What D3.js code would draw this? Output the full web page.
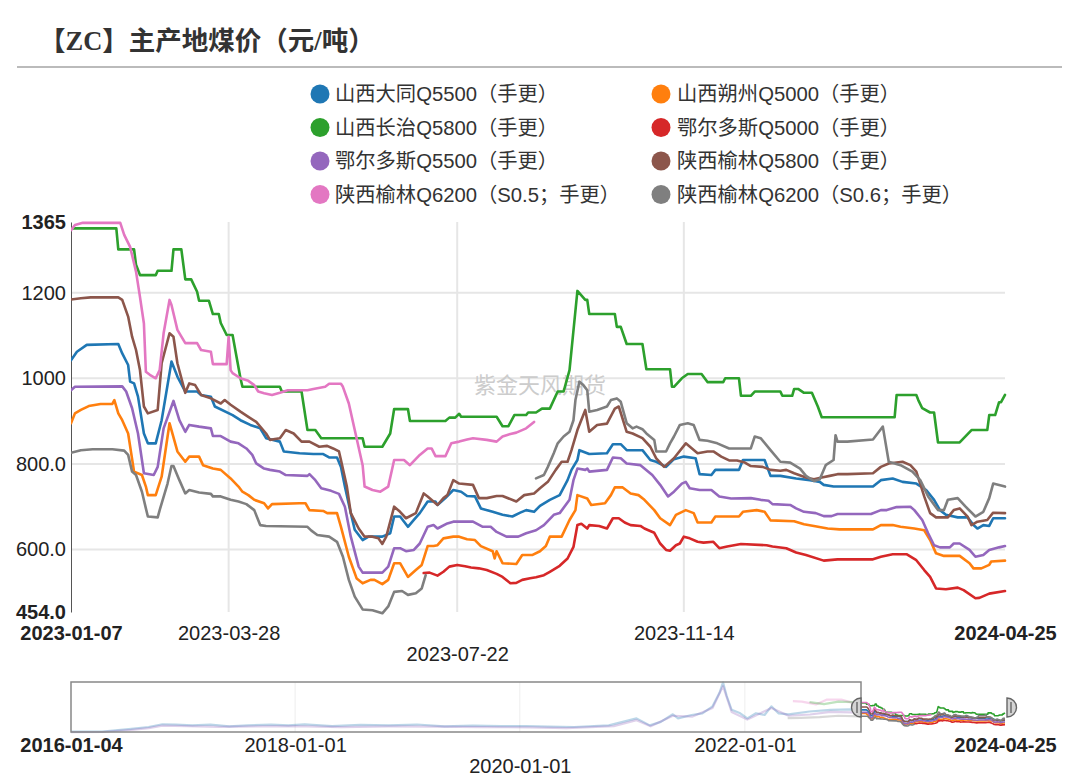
<!DOCTYPE html>
<html><head><meta charset="utf-8">
<script src="https://cdn.jsdelivr.net/npm/d3@7"></script>
<style>
html,body{margin:0;padding:0;background:#fff;}
svg{display:block;}
</style></head><body>
<svg id="chart" width="1080" height="784"></svg>
<script>
const chartTitle = "【ZC】主产地煤价（元/吨）";
const watermark = "紫金天风期货";
const seriesNames = ["山西大同Q5500（手更）","山西朔州Q5000（手更）","山西长治Q5800（手更）","鄂尔多斯Q5000（手更）","鄂尔多斯Q5500（手更）","陕西榆林Q5800（手更）","陕西榆林Q6200（S0.5；手更）","陕西榆林Q6200（S0.6；手更）"];
const seriesColors = ["#1f77b4","#ff7f0e","#2ca02c","#d62728","#9467bd","#8c564b","#e377c2","#7f7f7f"];
const yTicks = [1365, 1200, 1000, 800, 600, 454];
const yTickLabels = ["1365","1200","1000","800.0","600.0","454.0"];
const xTicks = ["2023-01-07","2023-03-28","2023-07-22","2023-11-14","2024-04-25"];
const overviewTicks = ["2016-01-04","2018-01-01","2020-01-01","2022-01-01","2024-04-25"];

const datong = [["2023-01-07",1042],["2023-01-10",1062],["2023-01-15",1078],["2023-01-31",1080],["2023-02-02",1058],["2023-02-05",1031],["2023-02-06",992],["2023-02-08",988],["2023-02-10",957],["2023-02-13",871],["2023-02-15",848],["2023-02-19",848],["2023-02-22",902],["2023-02-27",1039],["2023-03-02",1004],["2023-03-06",969],["2023-03-12",969],["2023-03-14",961],["2023-03-19",957],["2023-03-21",934],["2023-03-30",914],["2023-04-03",902],["2023-04-08",891],["2023-04-13",883],["2023-04-16",860],["2023-04-23",852],["2023-04-25",829],["2023-05-03",825],["2023-05-10",823],["2023-05-15",823],["2023-05-18",815],["2023-05-22",815],["2023-05-24",793],["2023-05-26",747],["2023-05-29",685],["2023-05-31",646],["2023-06-04",622],["2023-06-07",630],["2023-06-14",630],["2023-06-18",638],["2023-06-20",677],["2023-06-23",677],["2023-06-27",653],["2023-06-30",669],["2023-07-03",685],["2023-07-07",712],["2023-07-11",712],["2023-07-12",704],["2023-07-16",720],["2023-07-20",739],["2023-07-24",735],["2023-07-27",725],["2023-07-31",724],["2023-08-03",696],["2023-08-09",688],["2023-08-14",681],["2023-08-19",677],["2023-08-23",686],["2023-08-26",692],["2023-08-30",688],["2023-09-02",702],["2023-09-07",716],["2023-09-12",727],["2023-09-16",762],["2023-09-18",786],["2023-09-21",809],["2023-09-22",832],["2023-09-27",823],["2023-10-06",825],["2023-10-09",846],["2023-10-13",846],["2023-10-16",832],["2023-10-24",832],["2023-10-28",809],["2023-10-31",805],["2023-11-05",793],["2023-11-09",811],["2023-11-14",817],["2023-11-20",813],["2023-11-22",776],["2023-11-28",774],["2023-11-30",786],["2023-12-12",786],["2023-12-14",809],["2023-12-25",809],["2023-12-28",772],["2024-01-02",772],["2024-01-10",766],["2024-01-17",762],["2024-01-22",758],["2024-01-24",751],["2024-01-29",747],["2024-02-18",747],["2024-02-22",762],["2024-02-28",766],["2024-03-04",758],["2024-03-11",754],["2024-03-16",739],["2024-03-20",716],["2024-03-23",692],["2024-03-26",681],["2024-04-01",675],["2024-04-06",675],["2024-04-09",657],["2024-04-11",649],["2024-04-14",657],["2024-04-17",655],["2024-04-19",673],["2024-04-25",673]];

const shuozhou = [["2023-01-07",895],["2023-01-09",918],["2023-01-12",926],["2023-01-16",935],["2023-01-22",940],["2023-01-28",940],["2023-01-29",949],["2023-01-31",918],["2023-02-02",902],["2023-02-05",871],["2023-02-08",782],["2023-02-12",774],["2023-02-14",747],["2023-02-15",727],["2023-02-19",727],["2023-02-22",770],["2023-02-26",895],["2023-03-02",829],["2023-03-06",805],["2023-03-08",817],["2023-03-13",817],["2023-03-15",797],["2023-03-20",789],["2023-03-24",786],["2023-03-29",766],["2023-04-02",747],["2023-04-04",735],["2023-04-07",727],["2023-04-10",716],["2023-04-15",708],["2023-04-17",696],["2023-04-19",706],["2023-05-03",708],["2023-05-06",708],["2023-05-08",692],["2023-05-15",690],["2023-05-17",685],["2023-05-22",685],["2023-05-24",653],["2023-05-28",583],["2023-06-01",532],["2023-06-04",521],["2023-06-08",529],["2023-06-10",529],["2023-06-14",519],["2023-06-17",529],["2023-06-20",568],["2023-06-23",568],["2023-06-27",536],["2023-07-01",552],["2023-07-04",564],["2023-07-07",608],["2023-07-10",608],["2023-07-12",610],["2023-07-15",626],["2023-07-20",630],["2023-07-23",630],["2023-07-27",624],["2023-07-31",622],["2023-08-03",608],["2023-08-09",596],["2023-08-10",579],["2023-08-11",596],["2023-08-14",568],["2023-08-21",566],["2023-08-24",587],["2023-08-29",587],["2023-09-02",596],["2023-09-05",608],["2023-09-07",630],["2023-09-13",630],["2023-09-17",669],["2023-09-20",692],["2023-09-21",727],["2023-09-26",719],["2023-09-28",704],["2023-10-05",708],["2023-10-08",727],["2023-10-10",745],["2023-10-14",745],["2023-10-18",731],["2023-10-22",727],["2023-10-25",716],["2023-10-30",692],["2023-11-02",673],["2023-11-07",657],["2023-11-10",681],["2023-11-15",692],["2023-11-19",685],["2023-11-21",663],["2023-11-28",663],["2023-11-30",677],["2023-12-12",677],["2023-12-14",688],["2023-12-21",692],["2023-12-25",688],["2023-12-28",668],["2024-01-09",666],["2024-01-14",659],["2024-01-19",655],["2024-01-26",649],["2024-02-01",647],["2024-02-18",647],["2024-02-22",657],["2024-02-28",657],["2024-03-03",653],["2024-03-10",649],["2024-03-15",645],["2024-03-18",622],["2024-03-21",591],["2024-03-25",585],["2024-04-02",585],["2024-04-07",568],["2024-04-09",556],["2024-04-13",556],["2024-04-17",564],["2024-04-18",572],["2024-04-25",574]];

const changzhi = [["2023-01-07",1350],["2023-01-30",1350],["2023-01-31",1301],["2023-02-08",1301],["2023-02-09",1265],["2023-02-11",1241],["2023-02-19",1241],["2023-02-20",1251],["2023-02-27",1251],["2023-02-28",1301],["2023-03-04",1301],["2023-03-06",1231],["2023-03-09",1231],["2023-03-12",1202],["2023-03-13",1181],["2023-03-18",1181],["2023-03-20",1150],["2023-03-23",1150],["2023-03-24",1129],["2023-03-27",1101],["2023-03-30",1101],["2023-04-01",1050],["2023-04-03",1000],["2023-04-04",980],["2023-04-23",980],["2023-04-24",969],["2023-05-04",969],["2023-05-07",879],["2023-05-11",879],["2023-05-14",860],["2023-06-04",860],["2023-06-05",840],["2023-06-14",840],["2023-06-18",871],["2023-06-20",928],["2023-06-27",928],["2023-06-28",900],["2023-07-16",900],["2023-07-18",908],["2023-07-21",908],["2023-07-23",917],["2023-07-24",910],["2023-08-11",910],["2023-08-14",888],["2023-08-17",888],["2023-08-20",914],["2023-08-26",914],["2023-08-27",920],["2023-08-31",920],["2023-09-03",929],["2023-09-07",929],["2023-09-11",969],["2023-09-14",969],["2023-09-17",1019],["2023-09-21",1204],["2023-09-25",1183],["2023-09-26",1183],["2023-09-27",1150],["2023-10-10",1150],["2023-10-11",1120],["2023-10-13",1120],["2023-10-16",1080],["2023-10-24",1080],["2023-10-26",1021],["2023-11-07",1021],["2023-11-08",980],["2023-11-09",980],["2023-11-13",1000],["2023-11-16",1010],["2023-11-23",1010],["2023-11-26",991],["2023-12-04",991],["2023-12-05",1000],["2023-12-12",1000],["2023-12-13",959],["2023-12-18",959],["2023-12-20",969],["2024-01-02",969],["2024-01-03",959],["2024-01-08",959],["2024-01-09",975],["2024-01-11",975],["2024-01-14",966],["2024-01-18",966],["2024-01-21",934],["2024-01-23",909],["2024-02-29",909],["2024-03-01",961],["2024-03-11",961],["2024-03-12",949],["2024-03-14",930],["2024-03-18",920],["2024-03-20",920],["2024-03-22",850],["2024-04-02",850],["2024-04-08",879],["2024-04-16",879],["2024-04-17",914],["2024-04-20",914],["2024-04-22",944],["2024-04-23",944],["2024-04-25",961]];

const ordos5000 = [["2023-07-05",545],["2023-07-08",546],["2023-07-12",539],["2023-07-15",548],["2023-07-18",560],["2023-07-22",564],["2023-07-26",561],["2023-07-29",558],["2023-08-02",556],["2023-08-06",552],["2023-08-11",543],["2023-08-14",536],["2023-08-18",521],["2023-08-21",522],["2023-08-24",529],["2023-08-28",533],["2023-08-31",535],["2023-09-04",540],["2023-09-07",548],["2023-09-12",562],["2023-09-16",579],["2023-09-19",606],["2023-09-21",657],["2023-09-23",660],["2023-09-26",649],["2023-09-27",657],["2023-10-02",655],["2023-10-06",649],["2023-10-09",673],["2023-10-12",673],["2023-10-15",663],["2023-10-18",657],["2023-10-23",655],["2023-10-25",649],["2023-10-30",639],["2023-11-02",614],["2023-11-05",599],["2023-11-07",597],["2023-11-10",610],["2023-11-12",614],["2023-11-14",630],["2023-11-17",626],["2023-11-21",618],["2023-11-24",616],["2023-11-29",618],["2023-12-02",603],["2023-12-06",607],["2023-12-13",613],["2023-12-26",610],["2023-12-29",607],["2024-01-05",603],["2024-01-10",593],["2024-01-15",587],["2024-01-24",574],["2024-01-31",577],["2024-02-18",577],["2024-02-22",583],["2024-02-28",589],["2024-03-06",589],["2024-03-11",575],["2024-03-15",552],["2024-03-18",536],["2024-03-21",509],["2024-03-26",507],["2024-04-01",511],["2024-04-04",505],["2024-04-10",486],["2024-04-12",487],["2024-04-17",497],["2024-04-25",503]];

const ordos5500 = [["2023-01-07",972],["2023-01-09",980],["2023-02-02",981],["2023-02-04",969],["2023-02-07",930],["2023-02-10",871],["2023-02-13",778],["2023-02-18",774],["2023-02-20",793],["2023-02-23",883],["2023-02-28",947],["2023-03-03",902],["2023-03-06",875],["2023-03-08",891],["2023-03-13",887],["2023-03-19",883],["2023-03-20",865],["2023-03-24",865],["2023-03-29",852],["2023-04-02",848],["2023-04-06",836],["2023-04-09",821],["2023-04-11",801],["2023-04-15",789],["2023-04-18",786],["2023-04-23",782],["2023-04-26",774],["2023-05-07",772],["2023-05-08",776],["2023-05-11",762],["2023-05-14",743],["2023-05-19",737],["2023-05-23",730],["2023-05-26",700],["2023-05-29",630],["2023-06-02",560],["2023-06-04",546],["2023-06-14",546],["2023-06-17",560],["2023-06-20",603],["2023-06-23",603],["2023-06-26",596],["2023-06-30",599],["2023-07-03",614],["2023-07-07",653],["2023-07-10",657],["2023-07-12",649],["2023-07-17",661],["2023-07-20",665],["2023-07-30",665],["2023-08-04",653],["2023-08-08",653],["2023-08-11",641],["2023-08-16",630],["2023-08-22",630],["2023-08-26",638],["2023-08-31",645],["2023-09-04",657],["2023-09-09",681],["2023-09-12",685],["2023-09-17",716],["2023-09-19",762],["2023-09-21",789],["2023-09-25",786],["2023-09-26",789],["2023-09-27",782],["2023-10-06",786],["2023-10-09",815],["2023-10-13",813],["2023-10-16",801],["2023-10-23",797],["2023-10-29",774],["2023-11-02",751],["2023-11-06",724],["2023-11-09",735],["2023-11-13",754],["2023-11-15",758],["2023-11-17",743],["2023-11-22",739],["2023-11-28",739],["2023-12-02",724],["2023-12-08",719],["2023-12-18",720],["2023-12-23",716],["2023-12-27",714],["2023-12-29",706],["2024-01-07",704],["2024-01-10",696],["2024-01-14",688],["2024-01-20",685],["2024-01-24",678],["2024-01-28",678],["2024-01-31",683],["2024-02-17",683],["2024-02-22",692],["2024-02-25",692],["2024-03-01",699],["2024-03-08",700],["2024-03-10",692],["2024-03-14",669],["2024-03-17",638],["2024-03-20",610],["2024-03-23",605],["2024-03-28",605],["2024-03-30",614],["2024-04-02",614],["2024-04-07",599],["2024-04-10",583],["2024-04-14",587],["2024-04-17",599],["2024-04-22",605],["2024-04-25",608]];

const yulin5800 = [["2023-01-07",1184],["2023-01-12",1187],["2023-01-17",1189],["2023-01-31",1189],["2023-02-02",1183],["2023-02-05",1144],["2023-02-07",1097],["2023-02-09",1066],["2023-02-11",1019],["2023-02-13",934],["2023-02-15",918],["2023-02-20",926],["2023-02-22",1035],["2023-02-26",1105],["2023-02-28",1097],["2023-03-02",1035],["2023-03-06",966],["2023-03-08",988],["2023-03-11",984],["2023-03-14",961],["2023-03-19",953],["2023-03-24",941],["2023-03-26",949],["2023-03-29",938],["2023-04-03",922],["2023-04-07",910],["2023-04-11",898],["2023-04-16",871],["2023-04-18",856],["2023-04-23",860],["2023-04-26",879],["2023-04-30",871],["2023-05-04",852],["2023-05-08",852],["2023-05-13",840],["2023-05-17",842],["2023-05-20",836],["2023-05-23",829],["2023-05-24",809],["2023-05-27",747],["2023-05-29",685],["2023-06-02",649],["2023-06-05",630],["2023-06-09",630],["2023-06-12",626],["2023-06-14",613],["2023-06-16",630],["2023-06-20",700],["2023-06-23",688],["2023-06-26",673],["2023-07-01",685],["2023-07-05",731],["2023-07-07",724],["2023-07-12",704],["2023-07-15",720],["2023-07-17",727],["2023-07-20",762],["2023-07-23",754],["2023-07-30",751],["2023-08-02",720],["2023-08-06",720],["2023-08-11",725],["2023-08-14",725],["2023-08-21",712],["2023-08-25",727],["2023-08-30",731],["2023-09-02",743],["2023-09-06",758],["2023-09-10",786],["2023-09-13",805],["2023-09-16",805],["2023-09-18",832],["2023-09-21",879],["2023-09-25",926],["2023-09-27",875],["2023-10-01",891],["2023-10-06",894],["2023-10-10",929],["2023-10-12",934],["2023-10-16",875],["2023-10-19",871],["2023-10-24",860],["2023-10-28",840],["2023-10-31",813],["2023-11-04",793],["2023-11-09",813],["2023-11-15",848],["2023-11-21",825],["2023-11-26",829],["2023-11-29",829],["2023-12-03",817],["2023-12-07",808],["2023-12-11",808],["2023-12-15",803],["2023-12-18",795],["2023-12-24",793],["2023-12-28",786],["2024-01-02",784],["2024-01-05",786],["2024-01-09",778],["2024-01-15",768],["2024-01-19",764],["2024-01-23",768],["2024-01-27",772],["2024-01-31",776],["2024-02-05",776],["2024-02-18",778],["2024-02-22",793],["2024-02-26",801],["2024-03-04",805],["2024-03-08",797],["2024-03-11",782],["2024-03-15",724],["2024-03-18",685],["2024-03-21",675],["2024-03-27",675],["2024-03-30",692],["2024-04-02",696],["2024-04-06",677],["2024-04-08",657],["2024-04-11",665],["2024-04-16",669],["2024-04-19",686],["2024-04-25",685]];

const yulin6200a = [["2023-01-07",1346],["2023-01-09",1358],["2023-01-13",1363],["2023-02-01",1363],["2023-02-03",1335],["2023-02-06",1307],["2023-02-09",1249],["2023-02-11",1190],["2023-02-13",1128],["2023-02-14",1015],["2023-02-16",1008],["2023-02-19",1000],["2023-02-21",1019],["2023-02-23",1105],["2023-02-26",1183],["2023-02-27",1171],["2023-03-02",1113],["2023-03-06",1082],["2023-03-12",1082],["2023-03-14",1066],["2023-03-19",1062],["2023-03-20",1033],["2023-03-27",1033],["2023-03-28",1097],["2023-03-29",1019],["2023-03-30",1012],["2023-04-03",1000],["2023-04-07",994],["2023-04-10",984],["2023-04-12",969],["2023-04-15",965],["2023-04-19",961],["2023-04-23",966],["2023-04-27",972],["2023-05-07",972],["2023-05-10",975],["2023-05-16",980],["2023-05-18",987],["2023-05-24",987],["2023-05-25",980],["2023-05-28",941],["2023-05-31",879],["2023-06-04",797],["2023-06-05",747],["2023-06-09",739],["2023-06-13",735],["2023-06-17",747],["2023-06-20",809],["2023-06-25",809],["2023-06-28",797],["2023-07-03",821],["2023-07-07",836],["2023-07-09",836],["2023-07-11",818],["2023-07-16",818],["2023-07-19",848],["2023-07-23",852],["2023-07-27",857],["2023-07-30",860],["2023-08-06",856],["2023-08-11",852],["2023-08-14",864],["2023-08-18",870],["2023-08-21",873],["2023-08-26",883],["2023-08-30",898]];

const yulin6200b = [["2023-01-07",826],["2023-01-12",832],["2023-01-18",834],["2023-01-28",834],["2023-02-03",831],["2023-02-05",821],["2023-02-07",782],["2023-02-09",774],["2023-02-12",735],["2023-02-14",696],["2023-02-15",677],["2023-02-20",675],["2023-02-21",692],["2023-02-25",754],["2023-02-27",795],["2023-02-28",795],["2023-03-03",762],["2023-03-06",731],["2023-03-08",739],["2023-03-13",733],["2023-03-19",730],["2023-03-20",724],["2023-03-24",724],["2023-03-29",716],["2023-04-02",712],["2023-04-06",706],["2023-04-10",692],["2023-04-13",657],["2023-04-16",655],["2023-05-07",653],["2023-05-09",644],["2023-05-12",634],["2023-05-18",630],["2023-05-22",618],["2023-05-25",583],["2023-05-28",529],["2023-05-31",490],["2023-06-04",460],["2023-06-09",458],["2023-06-14",451],["2023-06-17",467],["2023-06-20",501],["2023-06-24",503],["2023-06-27",494],["2023-07-01",498],["2023-07-04",509],["2023-07-06",540],["2023-07-20",null],["2023-08-31",766],["2023-09-04",774],["2023-09-06",793],["2023-09-09",825],["2023-09-11",848],["2023-09-14",864],["2023-09-17",875],["2023-09-19",902],["2023-09-20",949],["2023-09-22",992],["2023-09-24",984],["2023-09-26",972],["2023-09-27",922],["2023-10-01",926],["2023-10-06",934],["2023-10-08",949],["2023-10-11",953],["2023-10-13",945],["2023-10-16",895],["2023-10-19",883],["2023-10-21",887],["2023-10-24",881],["2023-10-26",871],["2023-10-30",856],["2023-10-31",829],["2023-11-05",829],["2023-11-07",848],["2023-11-09",864],["2023-11-12",891],["2023-11-16",895],["2023-11-19",891],["2023-11-22",856],["2023-11-26",854],["2023-12-01",848],["2023-12-07",836],["2023-12-18",836],["2023-12-20",864],["2023-12-23",860],["2023-12-28",832],["2024-01-02",805],["2024-01-07",803],["2024-01-12",789],["2024-01-15",772],["2024-01-19",760],["2024-01-22",764],["2024-01-25",797],["2024-01-29",809],["2024-01-30",867],["2024-01-31",852],["2024-02-05",852],["2024-02-18",857],["2024-02-21",875],["2024-02-23",887],["2024-02-26",805],["2024-03-03",797],["2024-03-09",782],["2024-03-13",762],["2024-03-17",724],["2024-03-22",692],["2024-03-25",692],["2024-03-27",716],["2024-04-01",720],["2024-04-05",700],["2024-04-10",677],["2024-04-14",688],["2024-04-17",720],["2024-04-19",754],["2024-04-25",747]];

// faded history shown only in the overview strip
const datongHistory = [["2016-01-04",235],["2016-04-15",238],["2016-07-18",344],["2016-09-12",414],["2016-10-27",519],["2016-12-10",505],["2017-02-01",476],["2017-04-01",503],["2017-06-01",437],["2017-08-01",476],["2017-10-15",505],["2017-12-10",480],["2018-02-01",519],["2018-05-01",445],["2018-08-01",500],["2018-11-01",476],["2019-02-01",510],["2019-05-01",437],["2019-08-01",470],["2019-11-01",445],["2020-01-20",453],["2020-04-01",425],["2020-06-26",414],["2020-10-16",476],["2021-01-14",748],["2021-02-26",476],["2021-04-03",612],["2021-05-12",907],["2021-05-29",748],["2021-07-12",880],["2021-08-16",946],["2021-09-18",1217],["2021-10-11",1753],["2021-10-22",2150],["2021-11-03",1617],["2021-11-19",1081],["2021-12-17",946],["2022-01-09",748],["2022-02-06",946],["2022-03-06",880],["2022-03-28",1217],["2022-04-20",946],["2022-05-23",907],["2022-07-30",1015],["2022-10-06",1081],["2022-12-11",1100],["2023-01-06",1042]];
const ordos5500History = [["2016-01-04",215],["2016-04-15",220],["2016-07-18",300],["2016-09-12",370],["2016-10-27",470],["2017-01-15",450],["2017-05-01",420],["2017-09-01",440],["2018-01-01",450],["2018-06-01",410],["2018-11-01",440],["2019-04-01",430],["2019-09-01",410],["2020-02-01",400],["2020-06-01",370],["2020-11-01",450],["2021-01-14",680],["2021-03-01",440],["2021-05-12",850],["2021-07-15",820],["2021-09-18",1150],["2021-10-22",2000],["2021-11-19",1000],["2022-01-09",700],["2022-03-28",1150],["2022-05-23",850],["2022-08-01",900],["2022-10-06",1000],["2022-12-11",980],["2023-01-06",972]];
const yulin6200aHistory = [["2022-06-06",1420],["2022-07-05",1400],["2022-08-20",1290],["2022-09-25",1480],["2022-11-10",1480],["2022-12-15",1360],["2023-01-06",1346]];
const changzhiHistory = [["2022-07-30",1380],["2022-09-15",1300],["2022-11-01",1400],["2022-12-20",1380],["2023-01-06",1350]];
const yulin6200bHistory = [["2022-05-20",760],["2022-07-01",770],["2022-09-01",800],["2022-11-01",850],["2023-01-06",826]];

const seriesData = [datong, shuozhou, changzhi, ordos5000, ordos5500, yulin5800, yulin6200a, yulin6200b];
const historyData = [[datongHistory,0],[ordos5500History,4],[yulin6200aHistory,6],[changzhiHistory,2],[yulin6200bHistory,7]];

const parse = d3.utcParse("%Y-%m-%d");
const svg = d3.select("#chart");
const latin = "'Liberation Sans','Noto Sans CJK SC',sans-serif";
const P = {left:71, right:1005, top:222, bottom:612};
const O = {left:71, right:1005, top:682, bottom:732, boxRight:861};

// title
svg.append("text").attr("x",39).attr("y",50).text(chartTitle)
  .attr("font-family","'Liberation Serif','Noto Sans CJK SC',serif").attr("font-weight","bold")
  .attr("font-size",26.5).attr("fill","#333");
svg.append("line").attr("x1",17).attr("x2",1062).attr("y1",67).attr("y2",67).attr("stroke","#bbb").attr("stroke-width",2);

// legend
const legendRows = [94,127.5,161,194.5];
const legendCols = [[320,335],[661,677]];
seriesNames.forEach((n,i)=>{
  const r = Math.floor(i/2), c = i%2;
  const g = svg.append("g");
  g.append("circle").attr("cx",legendCols[c][0]).attr("cy",legendRows[r]).attr("r",9.5).attr("fill",seriesColors[i]);
  g.append("text").attr("x",legendCols[c][1]).attr("y",legendRows[r]).attr("dy","0.35em").text(n)
    .attr("font-family",latin).attr("font-size",20.3).attr("fill","#333");
});

const x = d3.scaleUtc().domain([parse(xTicks[0]), parse(xTicks[xTicks.length-1])]).range([P.left,P.right]);
const y = d3.scaleLinear().domain([454,1365]).range([P.bottom,P.top]);

// grid
const grid = svg.append("g");
yTicks.slice(1,-1).forEach(v=>grid.append("line").attr("x1",P.left).attr("x2",P.right).attr("y1",y(v)).attr("y2",y(v)).attr("stroke","#e6e6e6").attr("stroke-width",2));
xTicks.slice(1,-1).forEach(t=>grid.append("line").attr("x1",x(parse(t))).attr("x2",x(parse(t))).attr("y1",P.top).attr("y2",P.bottom).attr("stroke","#e6e6e6").attr("stroke-width",2));

// watermark
svg.append("text").attr("x",540).attr("y",385).attr("text-anchor","middle").attr("dy","0.35em").text(watermark)
  .attr("font-family","'Noto Sans CJK SC',sans-serif").attr("font-size",22).attr("fill","#cccccc");

// y axis
const yAxis = svg.append("g").attr("transform",`translate(${P.left},0)`)
  .call(d3.axisLeft(y).tickValues(yTicks).tickFormat((d,i)=>yTickLabels[i]).tickSize(0).tickSizeOuter(0).tickPadding(5));
yAxis.select(".domain").attr("stroke","#555").attr("stroke-width",1);
yAxis.selectAll("text").attr("font-family",latin).attr("font-size",20).attr("fill","#222")
  .attr("font-weight",(d,i)=>(i===0||i===yTicks.length-1)?"bold":"normal");

// x axis
const xAxis = svg.append("g").attr("transform",`translate(0,${P.bottom})`)
  .call(d3.axisBottom(x).tickValues(xTicks.map(parse)).tickFormat((d,i)=>xTicks[i]).tickSize(0).tickPadding(0));
xAxis.select(".domain").remove();
xAxis.selectAll("text").attr("font-family",latin).attr("font-size",20).attr("fill","#222")
  .attr("dy",null).attr("y",(d,i)=> i===2 ? 49 : 28)
  .attr("font-weight",(d,i)=>(i===0||i===xTicks.length-1)?"bold":"normal");

// clip
svg.append("clipPath").attr("id","plotclip").append("rect").attr("x",P.left).attr("y",P.top-8).attr("width",P.right-P.left+2).attr("height",P.bottom-P.top+12);

const line = d3.line().defined(d=>d[1]!=null).x(d=>x(parse(d[0]))).y(d=>y(d[1]));
const linesG = svg.append("g").attr("clip-path","url(#plotclip)");
seriesData.forEach((s,i)=>{
  linesG.append("path").datum(s).attr("d",line).attr("fill","none").attr("stroke",seriesColors[i])
    .attr("stroke-width",2.6).attr("stroke-linejoin","round").attr("stroke-linecap","round");
});

// overview
const ox = d3.scaleUtc().domain([parse(overviewTicks[0]), parse(overviewTicks[overviewTicks.length-1])]).range([O.left,O.right]);
const oy = d3.scaleLinear().domain([220,2160]).range([O.bottom,O.top]);
const oline = d3.line().defined(d=>d[1]!=null).x(d=>ox(parse(d[0]))).y(d=>oy(d[1]));
const og = svg.append("g");
overviewTicks.slice(1,-1).forEach(t=>og.append("line").attr("x1",ox(parse(t))).attr("x2",ox(parse(t))).attr("y1",O.top).attr("y2",O.bottom).attr("stroke","#eee").attr("stroke-width",1));
historyData.forEach(([h,ci])=>{
  og.append("path").datum(h).attr("d",oline).attr("fill","none").attr("stroke",seriesColors[ci])
    .attr("stroke-opacity",0.3).attr("stroke-width",2.2).attr("stroke-linejoin","round");
});
seriesData.forEach((s,i)=>{
  og.append("path").datum(s).attr("d",oline).attr("fill","none").attr("stroke",seriesColors[i])
    .attr("stroke-width",1.6).attr("stroke-linejoin","round");
});
og.append("rect").attr("x",O.left).attr("y",O.top).attr("width",O.boxRight-O.left).attr("height",O.bottom-O.top)
  .attr("fill","none").attr("stroke","#888").attr("stroke-width",1.5);
// handles
const hy0 = 698, hy1 = 717, hr = 9.5;
og.append("path").attr("d",`M${O.boxRight},${hy0} A${hr},${hr} 0 0 0 ${O.boxRight},${hy1} Z`).attr("fill","#d4d4d4").attr("stroke","#666").attr("stroke-width",1.4);
og.append("line").attr("x1",O.boxRight-4).attr("x2",O.boxRight-4).attr("y1",hy0+4).attr("y2",hy1-4).attr("stroke","#666").attr("stroke-width",1.4);
og.append("path").attr("d",`M${O.right+2},${hy0} A${hr},${hr} 0 0 1 ${O.right+2},${hy1} Z`).attr("fill","#d4d4d4").attr("stroke","#666").attr("stroke-width",1.4);
og.append("line").attr("x1",O.right+6).attr("x2",O.right+6).attr("y1",hy0+4).attr("y2",hy1-4).attr("stroke","#666").attr("stroke-width",1.4);

const oAxis = svg.append("g").attr("transform",`translate(0,${O.bottom})`)
  .call(d3.axisBottom(ox).tickValues(overviewTicks.map(parse)).tickFormat((d,i)=>overviewTicks[i]).tickSize(0).tickPadding(0));
oAxis.select(".domain").remove();
oAxis.selectAll("text").attr("font-family",latin).attr("font-size",20).attr("fill","#222")
  .attr("dy",null).attr("y",(d,i)=> i===2 ? 41 : 20)
  .attr("font-weight",(d,i)=>(i===0||i===overviewTicks.length-1)?"bold":"normal");
</script>
</body></html>
